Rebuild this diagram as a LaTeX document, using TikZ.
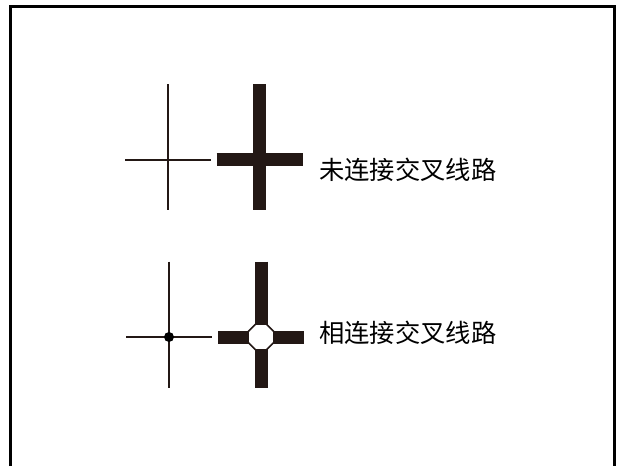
\documentclass[tikz,border=0pt]{standalone}
\usepackage{fontspec}
\usepackage{xcolor}
\usetikzlibrary{shapes.geometric}
\newfontfamily\cjk{Noto Sans CJK SC}
\definecolor{wire}{HTML}{231815}

\begin{document}
\begin{tikzpicture}[x=1pt,y=-1pt]
    % Define styles
    \tikzstyle{frame}=[draw=black,line width=3pt]
    \tikzstyle{thinwire}=[draw=wire,line width=2pt]
    \tikzstyle{thickwire}=[draw=wire,line width=13pt]
    \tikzstyle{joint}=[circle,fill=black,inner sep=0pt,minimum size=10pt]
    \tikzstyle{pad}=[regular polygon,regular polygon sides=8,draw=wire,fill=white,line width=1.5pt,inner sep=0pt,minimum size=28pt]
    \tikzstyle{caption}=[anchor=west,inner sep=0pt,font=\cjk\fontsize{25.3}{25.3}\selectfont,text=black]

    \useasboundingbox (0,0) rectangle (621,466);

    % Outer frame, open at the bottom
    \coordinate (fl) at (10.5,466);
    \coordinate (tl) at (10.5,6);
    \coordinate (tr) at (614,6);
    \coordinate (fr) at (614,466);
    \draw[frame] (fl) -- (tl) -- (tr) -- (fr);

    % Crossing without connection
    \coordinate (a1) at (168,84);
    \coordinate (a2) at (168,210);
    \coordinate (a3) at (125,159.5);
    \coordinate (a4) at (211,159.5);
    \draw[thinwire] (a1) -- (a2);
    \draw[thinwire] (a3) -- (a4);

    \coordinate (b1) at (259.5,84);
    \coordinate (b2) at (259.5,210);
    \coordinate (b3) at (216.5,159.5);
    \coordinate (b4) at (302.5,159.5);
    \draw[thickwire] (b1) -- (b2);
    \draw[thickwire] (b3) -- (b4);

    \node[caption] (open) at (319,170) {未连接交叉线路};

    % Crossing with connection
    \coordinate (c1) at (169,261.5);
    \coordinate (c2) at (169,387.5);
    \coordinate (c3) at (126,337);
    \coordinate (c4) at (212,337);
    \draw[thinwire] (c1) -- (c2);
    \draw[thinwire] (c3) -- (c4);
    \node[joint] (dot) at (169,337) {};

    \coordinate (d1) at (261,261.5);
    \coordinate (d2) at (261,387.5);
    \coordinate (d3) at (218,337);
    \coordinate (d4) at (304,337);
    \draw[thickwire] (d1) -- (d2);
    \draw[thickwire] (d3) -- (d4);
    \node[pad] (hole) at (261,337) {};

    \node[caption] (closed) at (319,333) {相连接交叉线路};
\end{tikzpicture}
\end{document}
